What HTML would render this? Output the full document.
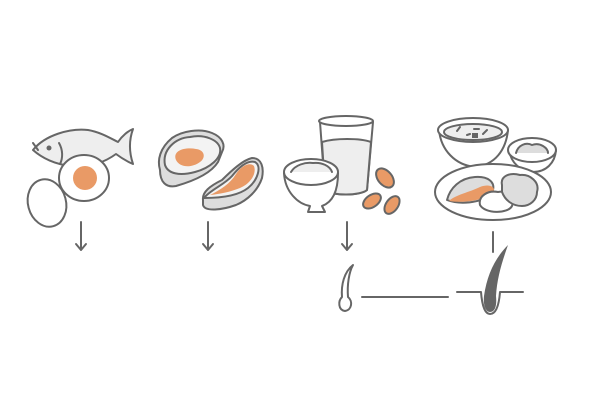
<!DOCTYPE html>
<html><head><style>html,body{margin:0;padding:0;background:#fff}svg{display:block}</style></head>
<body>
<svg width="600" height="400" viewBox="0 0 600 400" xmlns="http://www.w3.org/2000/svg" fill="none" stroke="#666" stroke-width="2" stroke-linejoin="round" stroke-linecap="round">
<!-- fish -->
<path d="M33,150 C45,135 70,128 88,130 C100,132 110,138 118,142 C122,136 128,131 133,129 C129,140 129,152 133,164 C126,161 120,157 116,154 C105,162 90,168 70,166 C55,164 42,158 33,150 Z" fill="#eee"/>
<path d="M38,150 L33,143" />
<circle cx="49" cy="148" r="2.5" fill="#666" stroke="none"/>
<path d="M59,143 C63,150 63,158 60,164"/>
<!-- eggs -->
<ellipse cx="47" cy="203" rx="19" ry="24" transform="rotate(-15 47 203)" fill="#fff"/>
<ellipse cx="84" cy="178" rx="25" ry="23" fill="#fff"/>
<circle cx="85" cy="178" r="12" fill="#e99a66" stroke="none"/>
<!-- arrows -->
<path d="M81,222 V250 M76,244 L81,250 L86,244"/>
<path d="M208,222 V250 M203,244 L208,250 L213,244"/>
<path d="M347,222 V250 M342,244 L347,250 L352,244"/>
<!-- oyster -->
<path d="M160,170 C157,160 160,148 172,138 C182,131 200,128 212,133 C222,137 226,145 222,152 L218,162 C210,175 190,182 176,186 C166,188 160,182 160,170 Z" fill="#ddd"/>
<path d="M165,165 C162,150 175,138 190,137 C205,134 218,140 220,148 C222,158 210,168 195,172 C180,176 168,174 165,165 Z" fill="#f3f3f3"/>
<path d="M176,160 C172,150 186,147 196,149 C205,150 206,158 200,162 C192,168 180,168 176,160 Z" fill="#e99a66" stroke="none"/>
<!-- salmon -->
<path d="M203,200 C202,192 210,186 222,180 C232,170 243,160 252,158 C262,158 264,168 262,178 C258,190 248,200 236,205 C222,210 205,212 203,205 Z" fill="#ddd"/>
<path d="M204,198 C210,190 224,185 232,176 C240,166 248,160 255,162 C262,166 258,180 248,188 C238,196 220,198 204,198 Z" fill="#f3f3f3"/>
<path d="M210,195 C220,190 230,184 236,174 C242,165 250,162 254,166 C257,174 250,184 240,188 C230,192 220,194 210,195 Z" fill="#e99a66" stroke="none"/>
<!-- glass -->
<path d="M320,122 L325,190 C332,196 360,196 367,190 L373,122 Z" fill="#fff"/>
<ellipse cx="346" cy="121" rx="27" ry="5" fill="#fff"/>
<path d="M322,142 C335,138 360,138 371,142 L367,190 C360,196 332,196 325,190 Z" fill="#eee"/>
<!-- rice bowl -->
<path d="M284,173 C285,192 298,204 310,206 L308,212 L325,212 L322,206 C333,202 338,190 338,173 Z" fill="#fff"/>
<ellipse cx="311" cy="172" rx="27" ry="13" fill="#fff"/>
<path d="M291,172 C295,165 305,162 313,163 C322,162 330,166 332,172" fill="#eee"/>
<!-- beans -->
<ellipse cx="385" cy="178" rx="7" ry="11" transform="rotate(-40 385 178)" fill="#e99a66"/>
<ellipse cx="372" cy="201" rx="6" ry="10" transform="rotate(55 372 201)" fill="#e99a66"/>
<ellipse cx="392" cy="205" rx="6" ry="10" transform="rotate(35 392 205)" fill="#e99a66"/>
<!-- soup bowl -->
<path d="M439,130 C441,150 455,165 475,167 C495,165 506,150 508,130 Z" fill="#fff"/>
<ellipse cx="473" cy="130" rx="35" ry="12" fill="#fff"/>
<ellipse cx="473" cy="132" rx="29" ry="8" fill="#eee"/>
<path d="M457,131 L460,127 M467,135 L470,134 M474,129 L479,129 M483,134 L487,130" />
<rect x="472" y="133" width="6" height="5" fill="#666" stroke="none"/>
<!-- small bowl -->
<path d="M509,150 C511,163 521,172 533,172 C546,172 555,163 556,150 Z" fill="#fff"/>
<ellipse cx="532" cy="150" rx="24" ry="12" fill="#fff"/>
<path d="M516,153 C518,145 526,142 532,145 C540,142 548,148 548,153" fill="#ddd"/>
<!-- plate -->
<ellipse cx="493" cy="192" rx="58" ry="28" fill="#fff"/>
<path d="M447,200 C450,188 460,178 475,177 C488,176 495,182 493,190 L490,195 C480,203 460,205 447,200 Z" fill="#ddd"/>
<path d="M449,201 C455,195 470,192 480,187 C488,184 494,186 494,190 C490,198 470,204 449,201 Z" fill="#e99a66" stroke="none"/>
<path d="M480,205 C478,196 488,190 498,192 C508,190 515,198 512,206 C508,214 485,214 480,205 Z" fill="#fff"/>
<path d="M502,185 C500,176 510,172 520,175 C530,174 540,182 537,192 C537,200 530,206 522,206 C512,206 505,200 502,192 Z" fill="#ddd"/>
<!-- connectors -->
<path d="M493,232 V252"/>
<path d="M362,297 H448"/>
<!-- small hair -->
<path d="M353,265 C344,272 341,285 342,297 C338,301 338,310 345,311 C352,310 353,301 348,297 C347,285 349,272 353,265 Z" fill="#fff"/>
<!-- follicle -->
<path d="M457,292 H481 C482,305 485,314 490,314 C496,314 499,305 500,292 H523"/>
<path d="M508,245 C495,258 487,275 484,296 C483,306 486,312 490,312 C495,312 497,306 496,296 C497,278 502,262 508,245 Z" fill="#666" stroke="none"/>
</svg>
</body></html>
